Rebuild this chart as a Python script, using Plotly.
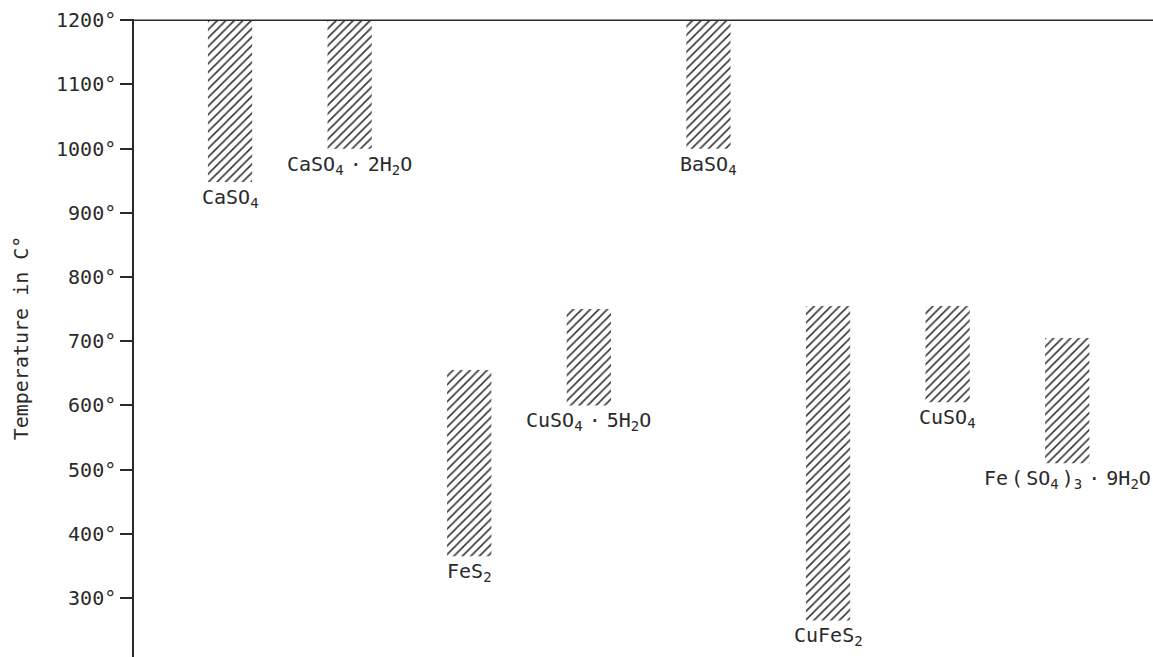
import plotly.graph_objects as go

# Decomposition temperature ranges of sulfur-bearing minerals (degrees C)
GAP = "<span style='font-size:10px'> </span>"
THIN = "<span style='font-size:5px'> </span>"
DOT = GAP + "·" + GAP
compounds = [
    "CaSO<sub>4</sub>",
    "CaSO<sub>4</sub>" + DOT + "2H<sub>2</sub>O",
    "FeS<sub>2</sub>",
    "CuSO<sub>4</sub>" + DOT + "5H<sub>2</sub>O",
    "BaSO<sub>4</sub>",
    "CuFeS<sub>2</sub>",
    "CuSO<sub>4</sub>",
    "Fe" + THIN + "(" + THIN + "SO<sub>4</sub>" + THIN + ")<sub>3</sub>" + DOT + "9H<sub>2</sub>O",
]
positions = [1, 2, 3, 4, 5, 6, 7, 8]
range_low = [948, 1000, 365, 600, 1000, 265, 605, 510]
range_high = [1200, 1200, 655, 750, 1200, 755, 755, 705]

tick_values = [300, 400, 500, 600, 700, 800, 900, 1000, 1100, 1200]
tick_labels = [f"{v}°" for v in tick_values]

FONT = "DejaVu Sans Mono"
INK = "#2a2a2a"
SIZE = 20

fig = go.Figure()
fig.add_trace(go.Bar(
    x=positions,
    base=range_low,
    y=[h - l for h, l in zip(range_high, range_low)],
    width=0.37,
    marker=dict(
        color="white",
        line=dict(width=0),
        pattern=dict(shape="/", fgcolor="#333333", bgcolor="white",
                     size=6, solidity=0.26, fillmode="replace"),
    ),
    hoverinfo="skip",
))

# compound names hang just below each bar
for xp, lo, name in zip(positions, range_low, compounds):
    fig.add_annotation(x=xp, y=lo, text=name, showarrow=False,
                       xanchor="center", yanchor="top", yshift=-1,
                       font=dict(family=FONT, size=SIZE, color=INK))

# horizontal rule across the top at 1200°
fig.add_shape(type="line", xref="paper", yref="y",
              x0=-0.013, x1=1, y0=1200, y1=1200,
              line=dict(color=INK, width=1.5), layer="above")

fig.update_layout(
    width=1153, height=657,
    margin=dict(l=134, r=0, t=19, b=0),
    paper_bgcolor="white", plot_bgcolor="white",
    showlegend=False,
    xaxis=dict(range=[0.197, 8.717], showticklabels=False, ticks="",
               showgrid=False, zeroline=False, showline=False),
    yaxis=dict(range=[208, 1202], tickvals=tick_values, ticktext=tick_labels,
               ticks="outside", ticklen=12, tickwidth=1.5, tickcolor=INK,
               showline=True, linecolor=INK, linewidth=1.5,
               showgrid=False, zeroline=False,
               tickfont=dict(family=FONT, size=SIZE, color=INK),
               title=dict(text="Temperature in C°", standoff=22,
                          font=dict(family=FONT, size=SIZE, color=INK))),
)

fig.write_html("out.html")
